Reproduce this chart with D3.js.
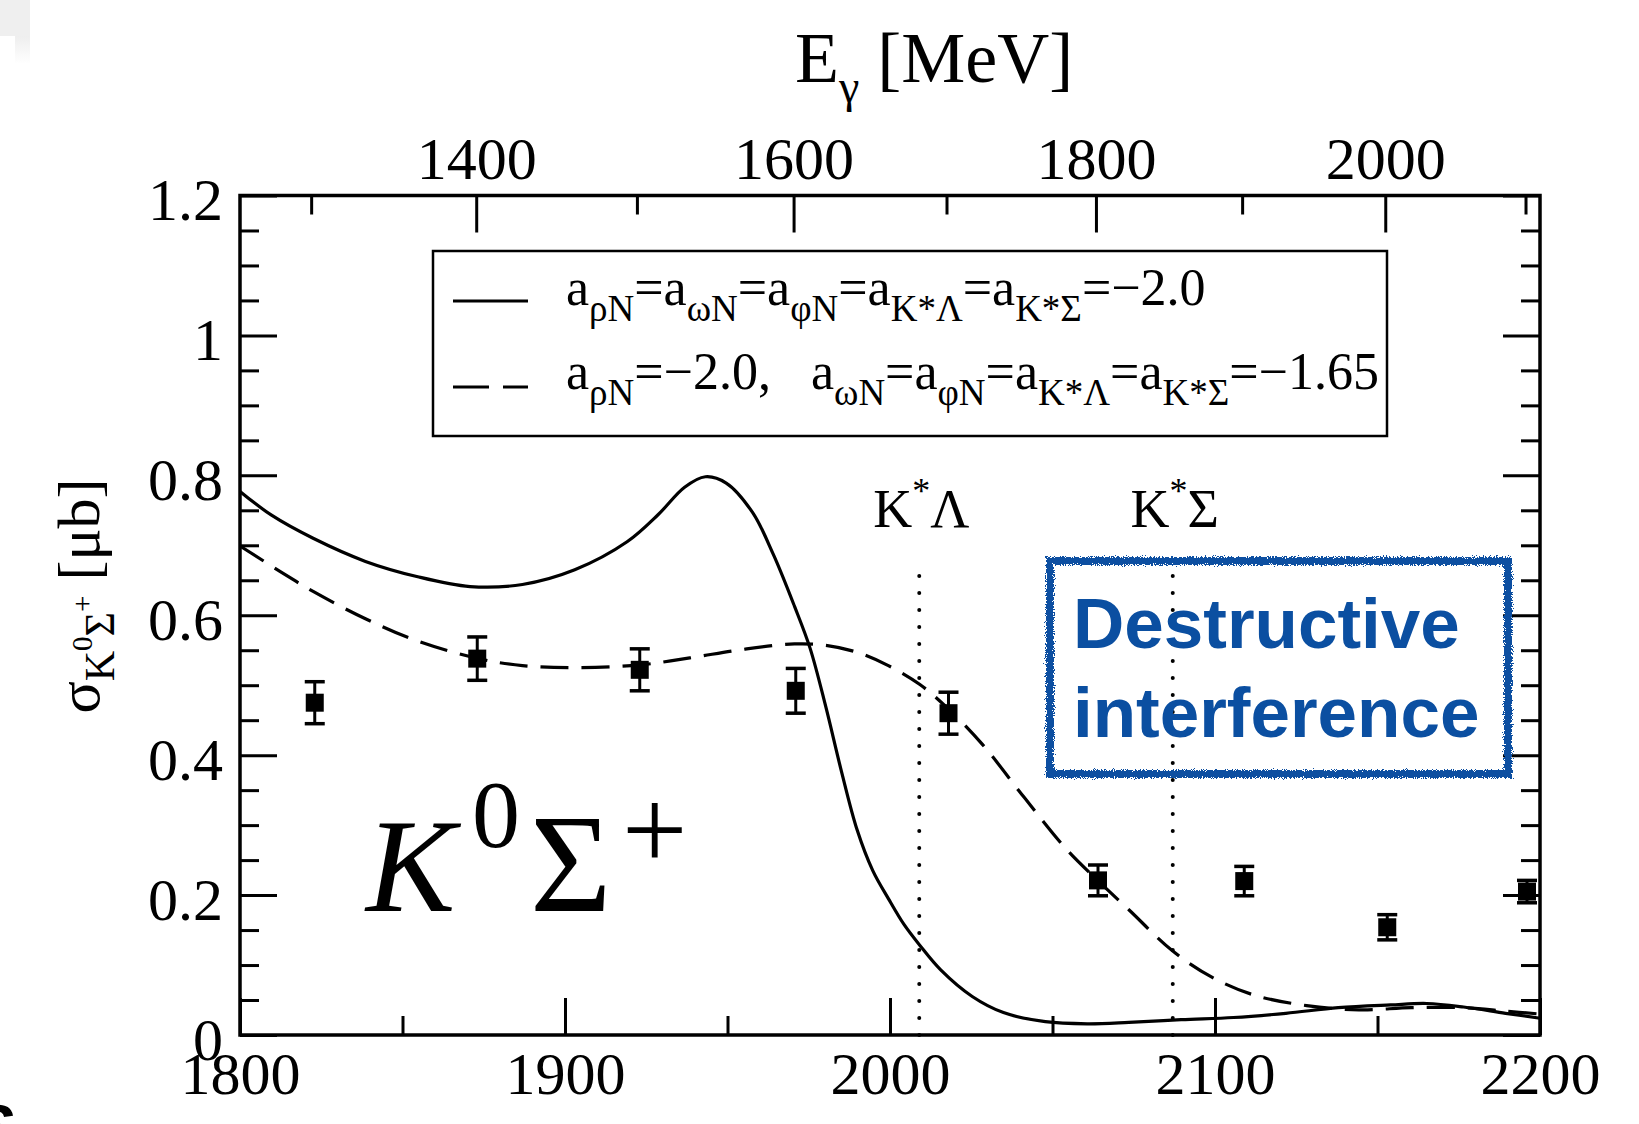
<!DOCTYPE html>
<html>
<head>
<meta charset="utf-8">
<script src="https://cdn.jsdelivr.net/npm/d3@7"></script>
<style>
    body { margin: 0; background: #fff; }
    svg { display: block; }
    text { font-family: "Liberation Serif", "Times New Roman", serif; fill: #000; }
</style>
</head>
<body>
<div id="container"></div>
<script>
"use strict";

// measured cross sections (W in MeV, sigma in microbarn)
const pointW = [1823, 1873, 1923, 1971, 2018, 2064, 2109, 2153, 2196];
const pointSigma = [0.475, 0.538, 0.522, 0.492, 0.460, 0.221, 0.220, 0.154, 0.205];
const pointErr = [0.030, 0.031, 0.030, 0.032, 0.030, 0.022, 0.021, 0.018, 0.016];

// solid curve: all a = -2.0
const solidW = [1800, 1809.7, 1822.5, 1838.6, 1854.7, 1870.8, 1886.9, 1903, 1919.1, 1928.7, 1936.8, 1943.2,
    1949.6, 1957.7, 1964.1, 1970.6, 1975.4, 1980.2, 1985, 1989.9, 1994.7, 1999.5, 2004.3, 2009.2, 2015.6,
    2025.3, 2034.9, 2047.8, 2060.7, 2073.5, 2089.6, 2105.7, 2121.8, 2137.9, 2154, 2165.2, 2176.5, 2189.4, 2200];
const solidSigma = [0.777, 0.743, 0.710, 0.677, 0.655, 0.641, 0.644, 0.665, 0.705, 0.744, 0.783, 0.798,
    0.789, 0.747, 0.687, 0.613, 0.553, 0.470, 0.378, 0.293, 0.235, 0.195, 0.158, 0.128, 0.093,
    0.055, 0.032, 0.019, 0.016, 0.018, 0.022, 0.025, 0.031, 0.039, 0.043, 0.045, 0.040, 0.031, 0.024];

// dashed curve: a_rhoN = -2.0, others -1.65
const dashedW = [1800, 1812.9, 1822.5, 1838.6, 1854.7, 1873.4, 1886.9, 1903, 1922.9, 1938.4, 1954.5, 1970.6,
    1980.2, 1989.9, 1999.5, 2009.2, 2018.2, 2028.5, 2041.4, 2054.2, 2063.9, 2073.5, 2087, 2099.3, 2112.1,
    2128.2, 2144.3, 2160.4, 2176.5, 2189.4, 2200];
const dashedSigma = [0.699, 0.661, 0.634, 0.595, 0.563, 0.538, 0.528, 0.525, 0.529, 0.539, 0.551, 0.559,
    0.557, 0.547, 0.528, 0.501, 0.465, 0.415, 0.339, 0.266, 0.221, 0.179, 0.120, 0.082, 0.057,
    0.042, 0.036, 0.039, 0.039, 0.034, 0.030];

// thresholds
const thresholdW = [2009, 2087];
const thresholdName = ["Λ", "Σ"];

// axis ticks
const wMajor = [1800, 1900, 2000, 2100, 2200];
const wMinor = [1850, 1950, 2050, 2150];
const sigmaMajor = [0, 0.2, 0.4, 0.6, 0.8, 1, 1.2];
const sigmaMinor = [0.05, 0.1, 0.15, 0.25, 0.3, 0.35, 0.45, 0.5, 0.55, 0.65, 0.7, 0.75, 0.85, 0.9, 0.95, 1.05, 1.1, 1.15];
const egammaMajor = [1400, 1600, 1800, 2000];
const egammaMinor = [1300, 1500, 1700, 1900, 2100];

const protonMass = 938.27;
const wFromEgamma = (e) => Math.sqrt(protonMass * protonMass + 2 * protonMass * e);

const margin = { top: 195.5, right: 99, bottom: 89, left: 240 },
    width = 1639 - margin.left - margin.right,
    height = 1124 - margin.top - margin.bottom;

const svgRoot = d3.select("#container")
    .append("svg")
    .attr("width", 1639)
    .attr("height", 1124);

// faint scan artefacts at the corners
const defs = svgRoot.append("defs");
const fade = defs.append("linearGradient").attr("id", "fade").attr("x1", 0).attr("y1", 0).attr("x2", 0).attr("y2", 1);
fade.append("stop").attr("offset", 0).attr("stop-color", "#eeeeee");
fade.append("stop").attr("offset", 1).attr("stop-color", "#ffffff");
svgRoot.append("rect").attr("x", 0).attr("y", 0).attr("width", 30).attr("height", 36).attr("fill", "#efefef");
svgRoot.append("rect").attr("x", 15).attr("y", 36).attr("width", 15).attr("height", 28).attr("fill", "url(#fade)");
svgRoot.append("text").attr("x", -26).attr("y", 1150)
    .style("font-family", "'Liberation Sans', Arial, sans-serif").style("font-weight", "bold")
    .style("font-size", "64px").text("S");

// rough edge filter for the hand drawn box
const rough = defs.append("filter").attr("id", "rough").attr("x", "-5%").attr("y", "-5%").attr("width", "110%").attr("height", "110%");
rough.append("feTurbulence").attr("type", "fractalNoise").attr("baseFrequency", 0.9).attr("numOctaves", 2).attr("result", "noise");
rough.append("feDisplacementMap").attr("in", "SourceGraphic").attr("in2", "noise").attr("scale", 7);

const svg = svgRoot.append("g").attr("transform", `translate(${margin.left}, ${margin.top})`);

const x = d3.scaleLinear().domain([1800, 2200]).range([0, width]);
const y = d3.scaleLinear().domain([0, 1.2]).range([height, 0]);

const majorLen = 37, minorLen = 19, tickFont = "60px";

function styleAxis(g) {
    g.select(".domain").remove();
    g.selectAll(".tick line").attr("stroke", "#000").attr("stroke-width", 3);
    g.selectAll("text").style("font-size", tickFont).attr("fill", "#000");
}

// bottom axis (W)
svg.append("g")
    .attr("transform", `translate(0, ${height})`)
    .call(d3.axisBottom(x).tickValues(wMajor).tickSize(-majorLen).tickFormat(d3.format("d")))
    .call(styleAxis)
    .call((g) => g.selectAll("text").attr("y", 59).attr("dy", 0));
svg.append("g")
    .attr("transform", `translate(0, ${height})`)
    .call(d3.axisBottom(x).tickValues(wMinor).tickSize(-minorLen).tickFormat(""))
    .call(styleAxis);

// left axis
svg.append("g")
    .call(d3.axisLeft(y).tickValues(sigmaMajor).tickSize(-majorLen).tickPadding(17).tickFormat(d3.format("")))
    .call(styleAxis)
    .call((g) => g.selectAll("text").attr("x", -17).attr("dy", "0.4em"));
svg.append("g")
    .call(d3.axisLeft(y).tickValues(sigmaMinor).tickSize(-minorLen).tickFormat(""))
    .call(styleAxis);

// right axis (mirror)
svg.append("g")
    .attr("transform", `translate(${width}, 0)`)
    .call(d3.axisRight(y).tickValues(sigmaMajor).tickSize(-majorLen).tickFormat(""))
    .call(styleAxis);
svg.append("g")
    .attr("transform", `translate(${width}, 0)`)
    .call(d3.axisRight(y).tickValues(sigmaMinor).tickSize(-minorLen).tickFormat(""))
    .call(styleAxis);

// top axis in photon energy (non linear in W)
const topAxis = svg.append("g");
topAxis.selectAll(".major")
    .data(egammaMajor)
    .join("line")
    .attr("x1", (d) => x(wFromEgamma(d)))
    .attr("x2", (d) => x(wFromEgamma(d)))
    .attr("y1", 0)
    .attr("y2", majorLen)
    .attr("stroke", "#000")
    .attr("stroke-width", 3);
topAxis.selectAll(".minor")
    .data(egammaMinor)
    .join("line")
    .attr("x1", (d) => x(wFromEgamma(d)))
    .attr("x2", (d) => x(wFromEgamma(d)))
    .attr("y1", 0)
    .attr("y2", minorLen)
    .attr("stroke", "#000")
    .attr("stroke-width", 3);
topAxis.selectAll("text")
    .data(egammaMajor)
    .join("text")
    .attr("x", (d) => x(wFromEgamma(d)))
    .attr("y", -17)
    .attr("text-anchor", "middle")
    .style("font-size", tickFont)
    .text((d) => d);

// frame
svg.append("rect")
    .attr("width", width)
    .attr("height", height)
    .attr("fill", "none")
    .attr("stroke", "#000")
    .attr("stroke-width", 3.5);

// threshold lines
svg.selectAll(".threshold")
    .data(thresholdW)
    .join("line")
    .attr("x1", (d) => x(d))
    .attr("x2", (d) => x(d))
    .attr("y1", y(0))
    .attr("y2", y(0.68))
    .attr("stroke", "#000")
    .attr("stroke-width", 4)
    .attr("stroke-linecap", "round")
    .attr("stroke-dasharray", "0,17");

const thrLabels = svg.selectAll(".thrlabel")
    .data(thresholdW)
    .join("text")
    .attr("x", (d) => x(d) + 2)
    .attr("y", 527 - margin.top)
    .attr("text-anchor", "middle")
    .style("font-size", "54px");
thrLabels.append("tspan").text("K");
thrLabels.append("tspan").attr("dy", -24).style("font-size", "36px").text("*");
thrLabels.append("tspan").attr("dy", 24).text((d, i) => thresholdName[i]);

// curves
const toPoints = (ws, ss) => ws.map((w, i) => [w, ss[i]]);
const line = d3.line()
    .x((d) => x(d[0]))
    .y((d) => y(d[1]))
    .curve(d3.curveCatmullRom.alpha(0.5));

svg.append("path")
    .attr("d", line(toPoints(solidW, solidSigma)))
    .attr("fill", "none")
    .attr("stroke", "#000")
    .attr("stroke-width", 3.2);

svg.append("path")
    .attr("d", line(toPoints(dashedW, dashedSigma)))
    .attr("fill", "none")
    .attr("stroke", "#000")
    .attr("stroke-width", 3.2)
    .attr("stroke-dasharray", "28,13");

// data points with error bars
const pts = svg.selectAll(".pt")
    .data(pointW.map((w, i) => ({ w: w, s: pointSigma[i], e: pointErr[i] })))
    .join("g");
pts.append("line")
    .attr("x1", (d) => x(d.w)).attr("x2", (d) => x(d.w))
    .attr("y1", (d) => y(d.s - d.e)).attr("y2", (d) => y(d.s + d.e))
    .attr("stroke", "#000").attr("stroke-width", 3);
pts.append("line")
    .attr("x1", (d) => x(d.w) - 10).attr("x2", (d) => x(d.w) + 10)
    .attr("y1", (d) => y(d.s - d.e)).attr("y2", (d) => y(d.s - d.e))
    .attr("stroke", "#000").attr("stroke-width", 3.5);
pts.append("line")
    .attr("x1", (d) => x(d.w) - 10).attr("x2", (d) => x(d.w) + 10)
    .attr("y1", (d) => y(d.s + d.e)).attr("y2", (d) => y(d.s + d.e))
    .attr("stroke", "#000").attr("stroke-width", 3.5);
pts.append("rect")
    .attr("x", (d) => x(d.w) - 9)
    .attr("y", (d) => y(d.s) - 9)
    .attr("width", 18)
    .attr("height", 18)
    .attr("fill", "#000");

// legend
const legend = svgRoot.append("g");
legend.append("rect")
    .attr("x", 433).attr("y", 251).attr("width", 954).attr("height", 185)
    .attr("fill", "#fff").attr("stroke", "#000").attr("stroke-width", 2.5);
legend.append("line")
    .attr("x1", 453).attr("x2", 528).attr("y1", 301).attr("y2", 301)
    .attr("stroke", "#000").attr("stroke-width", 3.2);
legend.append("line")
    .attr("x1", 453).attr("x2", 528).attr("y1", 387).attr("y2", 387)
    .attr("stroke", "#000").attr("stroke-width", 3.2).attr("stroke-dasharray", "36,14");

// [text, isSubscript, extra dx]
const legendRow1 = [["a", 0], ["ρN", 1], ["=a", 0], ["ωN", 1], ["=a", 0], ["φN", 1], ["=a", 0], ["K*Λ", 1], ["=a", 0], ["K*Σ", 1], ["=−2.0", 0]];
const legendRow2 = [["a", 0], ["ρN", 1], ["=−2.0,", 0], ["a", 0, 40], ["ωN", 1], ["=a", 0], ["φN", 1], ["=a", 0], ["K*Λ", 1], ["=a", 0], ["K*Σ", 1], ["=−1.65", 0]];

function legendText(row, yBase) {
    const t = legend.append("text").attr("x", 566).attr("y", yBase).style("font-size", "52px");
    let sub = 0;
    row.forEach((p) => {
        const dy = p[1] === sub ? 0 : (p[1] ? 16 : -16);
        sub = p[1];
        t.append("tspan")
            .attr("dy", dy)
            .attr("dx", p[2] || 0)
            .style("font-size", p[1] ? "37px" : "52px")
            .text(p[0]);
    });
}
legendText(legendRow1, 305);
legendText(legendRow2, 389);

// axis titles
const yTitle = svgRoot.append("text")
    .attr("transform", "translate(99, 596) rotate(-90)")
    .attr("text-anchor", "middle")
    .style("font-size", "60px");
yTitle.append("tspan").text("σ");
yTitle.append("tspan").attr("dy", 15).style("font-size", "42px").text("K");
yTitle.append("tspan").attr("dy", -22).style("font-size", "29px").text("0");
yTitle.append("tspan").attr("dy", 22).style("font-size", "42px").text("Σ");
yTitle.append("tspan").attr("dy", -22).style("font-size", "29px").text("+");
yTitle.append("tspan").attr("dy", 7).text(" [μb]");

const xTitle = svgRoot.append("text")
    .attr("x", 795).attr("y", 82)
    .style("font-size", "72px");
xTitle.append("tspan").text("E");
xTitle.append("tspan").attr("dy", 20).style("font-size", "46px").text("γ");
xTitle.append("tspan").attr("dy", -20).text(" [MeV]");

// reaction label
const reaction = svgRoot.append("text").attr("y", 911).style("font-size", "134px");
reaction.append("tspan").attr("x", 366).style("font-style", "italic").text("K");
reaction.append("tspan").attr("x", 472).attr("dy", -64).style("font-size", "96px").text("0");
reaction.append("tspan").attr("x", 530).attr("dy", 64).style("font-size", "140px").text("Σ");
reaction.append("tspan").attr("x", 622).attr("dy", -42).style("font-size", "116px").text("+");

// annotation box
const blue = "#0b4fa1";
svgRoot.append("rect")
    .attr("x", 1050).attr("y", 561).attr("width", 458).attr("height", 213)
    .attr("fill", "none")
    .attr("stroke", blue)
    .attr("stroke-width", 8)
    .attr("filter", "url(#rough)");
const note = svgRoot.append("text")
    .style("font-family", "'Liberation Sans', Arial, Helvetica, sans-serif")
    .style("font-weight", "bold")
    .style("font-size", "71px")
    .attr("fill", blue)
    .style("fill", blue);
note.append("tspan").attr("x", 1073).attr("y", 648).text("Destructive");
note.append("tspan").attr("x", 1073).attr("y", 737).text("interference");
</script>
</body>
</html>
